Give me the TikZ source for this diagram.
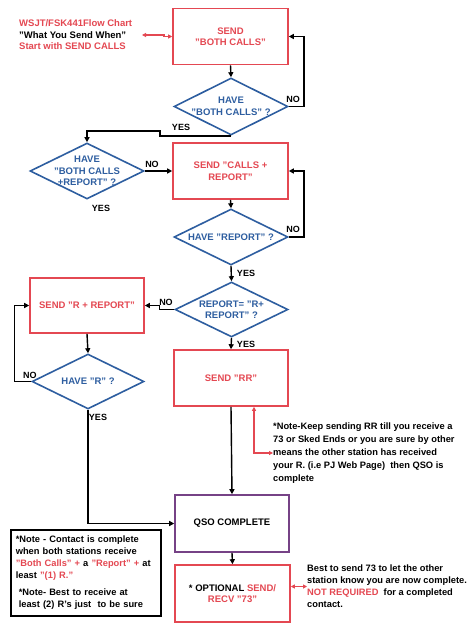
\documentclass[tikz,border=0pt]{standalone}
\usepackage{fontspec}
\setmainfont{Liberation Sans}
\usetikzlibrary{shapes.geometric,arrows.meta}
\definecolor{fred}{RGB}{228,72,82}
\definecolor{fblue}{RGB}{46,94,160}
\definecolor{fpurple}{RGB}{118,66,134}
\tikzset{
  txt/.style={font=\fontsize{9.5}{11.5}\selectfont\bfseries, align=center, inner sep=0pt},
  redbox/.style={draw=fred, line width=1.6pt, minimum width=115pt, minimum height=56pt, inner sep=0pt, txt, text=fred},
  qsobox/.style={draw=fpurple, line width=1.6pt, minimum width=114pt, minimum height=57pt, inner sep=0pt, txt, text=black},
  dia/.style={diamond, draw=fblue, line width=1.6pt, minimum width=114pt, minimum height=56pt, inner sep=0pt},
  dtxt/.style={txt, text=fblue},
  lab/.style={txt, text=black, font=\fontsize{9}{10}\selectfont\bfseries},
  conn/.style={draw=black, line width=1.4pt, -{Triangle[length=5pt,width=5pt]}},
  rconn/.style={draw=fred, line width=1.1pt, {Triangle[length=4pt,width=4pt]}-{Triangle[length=4pt,width=4pt]}},
}
\begin{document}
\begin{tikzpicture}[x=1pt,y=-1pt]
\useasboundingbox[fill=white] (0,0) rectangle (474,624);

% title
\node[txt, anchor=west, align=left] (title) at (19,35)
  {\textcolor{fred}{WSJT/FSK441Flow Chart}\\"What You Send When"\\\textcolor{fred}{Start with SEND CALLS}};
\coordinate (t1) at (142,35);

% boxes
\node[redbox] (b1) at (230.5,36.5) {SEND\\"BOTH CALLS"};
\node[redbox] (b2) at (230.5,171) {SEND "CALLS +\\REPORT"};
\node[redbox, minimum width=114pt, minimum height=55pt] (b3) at (87,305.5) {SEND "R + REPORT"};
\node[redbox, minimum width=114pt] (b4) at (231,378) {SEND "RR"};
\node[qsobox] (qso) at (232,523.5) {QSO COMPLETE};
\node[redbox, minimum height=57pt, text=black] (b6) at (232.5,593.5)
  {* OPTIONAL \textcolor{fred}{SEND/}\\\textcolor{fred}{RECV "73"}};

% diamonds
\node[dia, minimum height=57pt] (d1) at (231,106.5) {};
\node[dtxt] (d1t) at (d1) {HAVE\\"BOTH CALLS" ?};
\node[dia] (d2) at (87,171) {};
\node[dtxt] (d2t) at (d2) {HAVE\\"BOTH CALLS\\+REPORT" ?};
\node[dia] (d3) at (231,237) {};
\node[dtxt] (d3t) at (d3) {HAVE "REPORT" ?};
\node[dia, minimum width=113pt, minimum height=55pt] (d4) at (231.5,309.5) {};
\node[dtxt] (d4t) at (d4) {REPORT= "R+\\REPORT" ?};
\node[dia, minimum width=112pt, minimum height=55pt] (d5) at (88,381.5) {};
\node[dtxt] (d5t) at (d5) {HAVE "R" ?};

% connectors
\draw[conn] (b1.south) -- (d1.north);
\draw[conn] (d1.east) -- ++(15,0) |- (b1.east);
\draw[conn] (d1.south) -- ++(-71,0) -- ++(0,-5) -| (d2.north);
\draw[conn] (d2.east) -- (b2.west);
\draw[conn] (b2.south) -- (d3.north);
\draw[conn] (d3.east) -- ++(15,0) |- (b2.east);
\draw[conn] (d3.south) -- (d4.north);
\draw[conn] (d4.west) -- ++(-15,0) |- (b3.east);
\draw[conn] (d4.south) -- (b4.north);
\draw[conn] (b3.south) -- (d5.north);
\draw[conn] (d5.west) -- ++(-17,0) |- (b3.west);
\draw[conn] (d5.south) |- (qso.west);
\draw[conn] (b4.south) -- (qso.north);
\draw[conn] (qso.south) -- (b6.north);

% labels
\node[lab] (l1) at (293,99) {NO};
\node[lab] (l2) at (181,127) {YES};
\node[lab] (l3) at (152,164) {NO};
\node[lab] (l4) at (101,208) {YES};
\node[lab] (l5) at (293,229) {NO};
\node[lab] (l6) at (246,273) {YES};
\node[lab] (l7) at (166,302) {NO};
\node[lab] (l8) at (246,344) {YES};
\node[lab] (l9) at (30,375) {NO};
\node[lab] (l10) at (98,417) {YES};

% notes
\node[txt, anchor=west, align=left, font=\fontsize{9.3}{13}\selectfont\bfseries] (n1) at (273,453)
  {*Note-Keep sending RR till you receive a\\73 or Sked Ends or you are sure by other\\means the other station has received\\your R. (i.e PJ Web Page)\ \ then QSO is\\complete};
\node[draw=black, line width=1.6pt, anchor=north west, minimum width=150pt, minimum height=86pt,
      inner sep=4pt, text width=140pt, txt, align=left, font=\fontsize{9.3}{11.8}\selectfont\bfseries] (n2) at (10,529)
  {*Note - Contact is complete\\when both stations receive\\\textcolor{fred}{"Both Calls" +} a \textcolor{fred}{"Report" +} at\\least \textcolor{fred}{"(1) R."}\\[6pt]
   \hspace{3pt}*Note- Best to receive at\\\hspace{3pt}least (2) R's just\ \ to be sure};
\node[txt, anchor=west, align=left, font=\fontsize{9.3}{12}\selectfont\bfseries] (n3) at (307,586)
  {Best to send 73 to let the other\\station know you are now complete.\\\textcolor{fred}{NOT REQUIRED}\ \ for a completed\\contact.};

% red arrows
\draw[rconn] (t1) -- (164,35) |- (b1.west);
\draw[rconn] ([xshift=23pt]b4.south) |- (n1.west);
\draw[rconn] ([yshift=7pt]b6.east) -- ([yshift=7pt]b6.east -| n3.west);
\end{tikzpicture}
\end{document}
